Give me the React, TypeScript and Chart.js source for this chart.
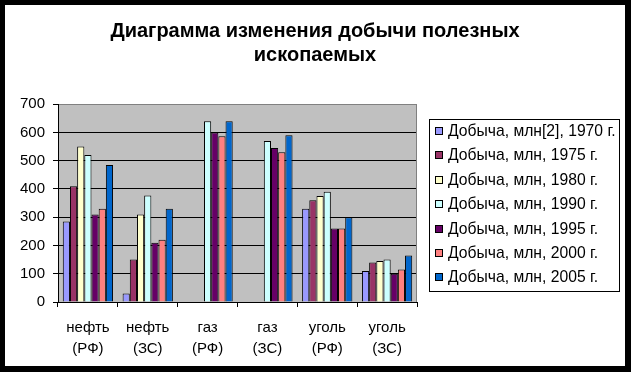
import React, { useEffect, useRef } from 'react';
import { Chart, registerables } from 'chart.js';

Chart.register(...registerables);

const categories: string[][] = [
  ['нефть', '(РФ)'],
  ['нефть', '(ЗС)'],
  ['газ', '(РФ)'],
  ['газ', '(ЗС)'],
  ['уголь', '(РФ)'],
  ['уголь', '(ЗС)'],
];

const seriesLabels = [
  'Добыча, млн[2], 1970 г.',
  'Добыча, млн, 1975 г.',
  'Добыча, млн, 1980 г.',
  'Добыча, млн, 1990 г.',
  'Добыча, млн, 1995 г.',
  'Добыча, млн, 2000 г.',
  'Добыча, млн, 2005 г.',
];

const s1970 = [285, 30, null, null, 330, 110];
const s1975 = [410, 150, null, null, 360, 140];
const s1980 = [550, 310, null, null, 375, 145];
const s1990 = [520, 377, 640, 570, 390, 150];
const s1995 = [310, 210, 600, 545, 260, 100];
const s2000 = [330, 220, 587, 530, 260, 115];
const s2005 = [485, 330, 640, 590, 300, 165];

const seriesValues = [s1970, s1975, s1980, s1990, s1995, s2000, s2005];

const seriesColors = ['#9999FF', '#993366', '#FFFFCC', '#CCFFFF', '#660066', '#FF8080', '#0066CC'];

const yTicks = [0, 100, 200, 300, 400, 500, 600, 700];

const FONT = '"Liberation Sans", Arial, sans-serif';

const plotDecor = {
  id: 'plotDecor',
  beforeDraw(chart: any) {
    const { ctx, chartArea } = chart;
    const { left, top, right, bottom } = chartArea;
    ctx.save();
    ctx.fillStyle = '#C0C0C0';
    ctx.fillRect(left, top, right - left, bottom - top);
    ctx.restore();
  },
  beforeDatasetsDraw(chart: any) {
    const { ctx, chartArea } = chart;
    const { top, right, bottom } = chartArea;
    ctx.save();
    ctx.strokeStyle = '#808080';
    ctx.lineWidth = 1;
    const x = Math.round(right) - 0.5;
    ctx.beginPath();
    ctx.moveTo(x, top);
    ctx.lineTo(x, bottom);
    ctx.stroke();
    ctx.restore();
  },
  afterDraw(chart: any) {
    const { ctx } = chart;
    const lx = 424;
    const ly = 114;
    const lw = 190;
    const lh = 172;
    ctx.save();
    ctx.strokeStyle = '#000';
    ctx.lineWidth = 1;
    ctx.strokeRect(lx + 0.5, ly + 0.5, lw, lh);
    ctx.font = `15.7px ${FONT}`;
    ctx.textBaseline = 'middle';
    ctx.textAlign = 'left';
    chart.data.datasets.forEach((ds: any, i: number) => {
      const cy = Math.round(126 + i * 24.4);
      ctx.fillStyle = ds.backgroundColor;
      ctx.fillRect(lx + 6, cy - 4, 7, 7);
      ctx.strokeStyle = '#000';
      ctx.strokeRect(lx + 6.5, cy - 3.5, 7, 7);
      ctx.fillStyle = '#000';
      ctx.fillText(ds.label, lx + 19, cy + 1);
    });
    ctx.restore();
  },
};

export default function App() {
  const ref = useRef<HTMLCanvasElement | null>(null);

  useEffect(() => {
    if (!ref.current) return;
    const chart = new Chart(ref.current, {
      type: 'bar',
      data: {
        labels: categories,
        datasets: seriesValues.map((vals, i) => ({
          label: seriesLabels[i],
          data: vals,
          backgroundColor: seriesColors[i],
          borderColor: '#000',
          borderWidth: 1,
          categoryPercentage: 0.84,
          barPercentage: 1,
          yAxisID: 'y',
        })),
      },
      options: {
        animation: false,
        responsive: false,
        devicePixelRatio: 1,
        layout: { padding: 0 },
        plugins: {
          legend: { display: false },
          tooltip: { enabled: false },
          title: {
            display: true,
            text: ['Диаграмма изменения добычи полезных', 'ископаемых'],
            color: '#000',
            font: { family: FONT, size: 20, weight: 'bold', lineHeight: 1.18 },
            padding: { top: 15, bottom: 37 },
          },
        },
        scales: {
          x: {
            grid: {
              display: true,
              drawOnChartArea: false,
              drawTicks: true,
              tickLength: 5,
              color: '#000',
              offset: true,
            },
            border: { display: true, color: '#000', width: 1 },
            ticks: {
              color: '#000',
              font: { family: FONT, size: 15, lineHeight: 1.4 },
              padding: 10,
              maxRotation: 0,
              autoSkip: false,
            },
            afterFit(scale: any) {
              scale.height = 64;
            },
          },
          y: {
            min: 0,
            max: 700,
            afterBuildTicks(scale: any) {
              scale.ticks = yTicks.map((v) => ({ value: v }));
            },
            grid: {
              color: (c: any) => (c.tick && c.tick.value === 700 ? '#808080' : '#000'),
              tickColor: '#000',
              tickLength: 5,
              drawTicks: true,
            },
            border: { display: true, color: '#000', width: 1 },
            ticks: {
              color: '#000',
              font: { family: FONT, size: 15 },
              padding: 8,
            },
            afterFit(scale: any) {
              scale.width = 53;
            },
          },
          legendSpace: {
            type: 'linear',
            position: 'right',
            display: true,
            grid: { display: false, drawTicks: false },
            border: { display: false },
            ticks: { display: false },
            afterFit(scale: any) {
              scale.width = 208;
            },
          },
        },
      },
      plugins: [plotDecor],
    } as any);
    return () => chart.destroy();
  }, []);

  return (
    <div style={{ position: 'absolute', left: 0, top: 0, width: 631, height: 372, background: '#000' }}>
      <canvas
        ref={ref}
        width={620}
        height={361}
        style={{ position: 'absolute', left: 5, top: 5, width: 620, height: 361, background: '#fff' }}
      />
    </div>
  );
}
